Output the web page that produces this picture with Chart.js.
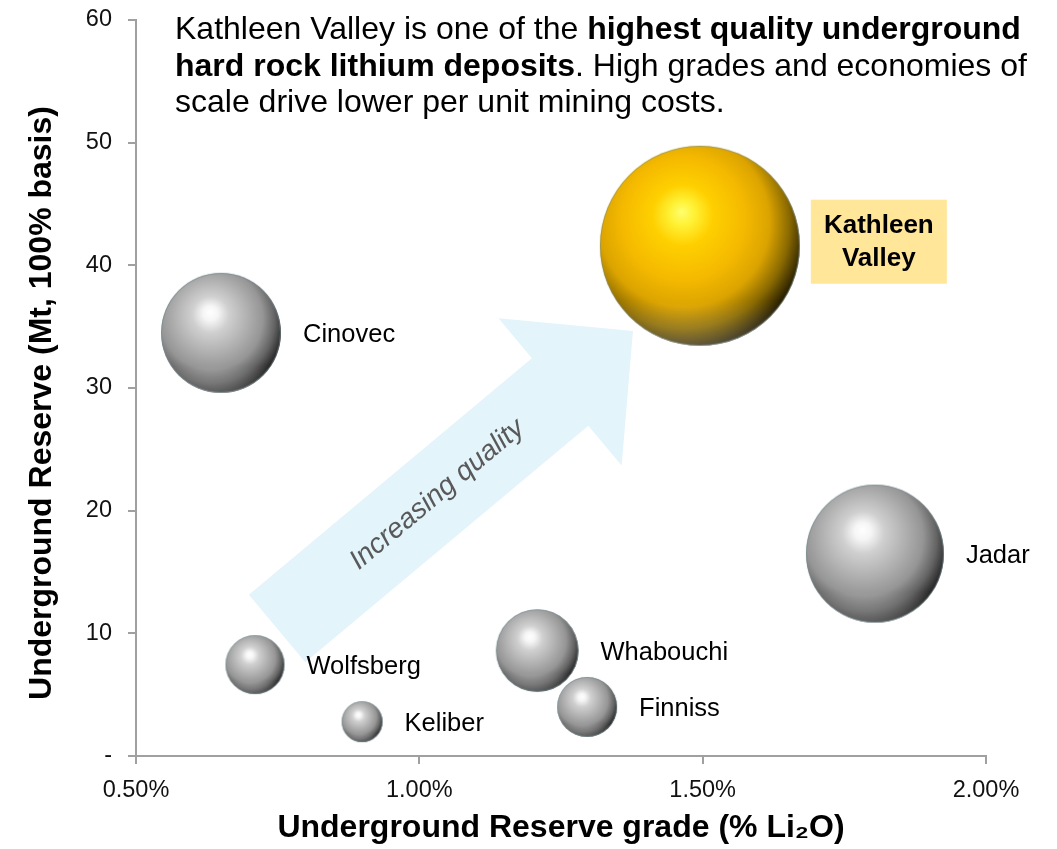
<!DOCTYPE html>
<html><head><meta charset="utf-8">
<script src="https://cdn.jsdelivr.net/npm/chart.js@4"></script>
<style>html,body{margin:0;padding:0;background:#fff;}#wrap{width:1057px;height:849px;}</style>
</head><body><div id="wrap"><canvas id="c" width="1057" height="849"></canvas></div>
<script>
// ---- data ----
const deposits = ['Kathleen Valley', 'Cinovec', 'Jadar', 'Whabouchi', 'Wolfsberg', 'Finniss', 'Keliber'];
const gradePct = [1.495, 0.65, 1.804, 1.208, 0.71, 1.296, 0.899];
const reserveMt = [41.6, 34.5, 16.5, 8.6, 7.45, 4.0, 2.8];
const bubbleRadius = [100, 60, 69, 41.3, 29.5, 30, 20.5];
const xTicks = [0.5, 1.0, 1.5, 2.0];
const yTicks = [0, 10, 20, 30, 40, 50, 60];
const highlighted = 'Kathleen Valley';
const arrowFrom = { x: 0.749, y: 10.4 };
const arrowTo = { x: 1.377, y: 34.65 };
const arrowText = 'Increasing quality';
const xTitle = 'Underground Reserve grade (% Li\u2082O)';
const yTitle = 'Underground Reserve (Mt, 100% basis)';
const headline = [
  [['Kathleen Valley is one of the ', false], ['highest quality underground', true]],
  [['hard rock lithium deposits', true], ['. High grades and economies of', false]],
  [['scale drive lower per unit mining costs.', false]]
];

// ---- styling ----
const FONT = '"Liberation Sans", Arial, Helvetica, sans-serif';
const AXIS = '#a0a0a0';
const GRAY = [[0, '#ffffff'], [0.1, '#f6f6f6'], [0.25, '#d0d0d0'], [0.5, '#b0b0b0'], [0.7, '#969696'], [0.86, '#646464'], [1, '#262626']];
const GOLD = [[0, '#ffff70'], [0.1, '#fff236'], [0.25, '#ffd000'], [0.5, '#f5ba00'], [0.7, '#dca400'], [0.86, '#8a6a00'], [1, '#2a2000']];

function sphere(r, stops) {
  const s = Math.ceil(r * 2) + 2;
  const c = document.createElement('canvas');
  c.width = c.height = s;
  const g = c.getContext('2d');
  const cx = s / 2, cy = s / 2;
  const grd = g.createRadialGradient(cx - 0.18 * r, cy - 0.34 * r, 0, cx - 0.15 * r, cy - 0.2 * r, 1.22 * r);
  stops.forEach(([o, col]) => grd.addColorStop(o, col));
  g.beginPath(); g.arc(cx, cy, r, 0, Math.PI * 2); g.closePath();
  g.fillStyle = grd; g.fill();
  g.save(); g.clip();
  const rim = g.createLinearGradient(0, cy + 0.55 * r, 0, cy + r);
  rim.addColorStop(0, 'rgba(255,255,255,0)');
  rim.addColorStop(1, 'rgba(255,255,255,0.22)');
  g.fillStyle = rim; g.fillRect(0, cy + 0.55 * r, s, r);
  g.restore();
  g.beginPath(); g.arc(cx, cy, r - 0.5, 0, Math.PI * 2);
  g.strokeStyle = 'rgba(110,140,150,0.55)'; g.lineWidth = 1; g.stroke();
  return c;
}
const spheres = deposits.map((n, i) => sphere(bubbleRadius[i], n === highlighted ? GOLD : GRAY));

const overlay = {
  id: 'overlay',
  beforeDatasetsDraw(chart) {
    const { ctx, scales: { x, y } } = chart;
    const T = { x: x.getPixelForValue(arrowFrom.x), y: y.getPixelForValue(arrowFrom.y) };
    const P = { x: x.getPixelForValue(arrowTo.x), y: y.getPixelForValue(arrowTo.y) };
    const L = Math.hypot(P.x - T.x, P.y - T.y);
    const u = { x: (P.x - T.x) / L, y: (P.y - T.y) / L };
    const n = { x: -u.y, y: u.x };
    const w = 88, hw = 192, hl = 95;
    const H = { x: P.x - u.x * hl, y: P.y - u.y * hl };
    const pts = [
      [T.x + n.x * w / 2, T.y + n.y * w / 2],
      [H.x + n.x * w / 2, H.y + n.y * w / 2],
      [H.x + n.x * hw / 2, H.y + n.y * hw / 2],
      [P.x, P.y],
      [H.x - n.x * hw / 2, H.y - n.y * hw / 2],
      [H.x - n.x * w / 2, H.y - n.y * w / 2],
      [T.x - n.x * w / 2, T.y - n.y * w / 2]
    ];
    ctx.save();
    ctx.beginPath();
    pts.forEach((p, i) => i ? ctx.lineTo(p[0], p[1]) : ctx.moveTo(p[0], p[1]));
    ctx.closePath();
    ctx.fillStyle = '#e3f4fb';
    ctx.fill();
    const C = { x: T.x + u.x * L * 0.45, y: T.y + u.y * L * 0.45 };
    ctx.translate(C.x, C.y);
    ctx.rotate(Math.atan2(u.y, u.x));
    ctx.font = 'italic 28px ' + FONT;
    ctx.fillStyle = '#595959';
    ctx.textAlign = 'center';
    ctx.textBaseline = 'middle';
    ctx.fillText(arrowText, 0, 0);
    ctx.restore();
  },
  afterDatasetsDraw(chart) {
    const { ctx } = chart;
    const meta = chart.getDatasetMeta(0);
    ctx.save();
    meta.data.forEach((el, i) => {
      const r = bubbleRadius[i];
      if (deposits[i] === highlighted) {
        const bx = el.x + r + 11, bw = 136, bh = 84, by = el.y - 4 - bh / 2;
        ctx.fillStyle = '#ffe699';
        ctx.fillRect(bx, by, bw, bh);
        ctx.fillStyle = '#000';
        ctx.font = 'bold 26px ' + FONT;
        ctx.textAlign = 'center';
        ctx.textBaseline = 'middle';
        const parts = deposits[i].split(' ');
        ctx.fillText(parts[0], bx + bw / 2, by + bh / 2 - 16);
        ctx.fillText(parts[1], bx + bw / 2, by + bh / 2 + 17);
      } else {
        ctx.fillStyle = '#000';
        ctx.font = '25.5px ' + FONT;
        ctx.textAlign = 'left';
        ctx.textBaseline = 'middle';
        ctx.fillText(deposits[i], el.x + r + 22, el.y + 2);
      }
    });
    // headline
    ctx.textAlign = 'left';
    ctx.textBaseline = 'alphabetic';
    ctx.fillStyle = '#000';
    headline.forEach((line, li) => {
      let xx = 175;
      const yy = 39 + li * 36.5;
      line.forEach(([txt, bold]) => {
        ctx.font = (bold ? 'bold ' : '') + '32px ' + FONT;
        ctx.fillText(txt, xx, yy);
        xx += ctx.measureText(txt).width;
      });
    });
    // y title
    ctx.translate(42, 403);
    ctx.rotate(-Math.PI / 2);
    ctx.font = 'bold 32px ' + FONT;
    ctx.textAlign = 'center';
    ctx.textBaseline = 'middle';
    ctx.fillText(yTitle, 0, 0);
    ctx.restore();
  }
};

new Chart(document.getElementById('c'), {
  type: 'bubble',
  data: {
    datasets: [{
      label: 'Underground reserve',
      data: deposits.map((d, i) => ({ x: gradePct[i], y: reserveMt[i], r: bubbleRadius[i] })),
      pointStyle: ctx => spheres[ctx.dataIndex],
      backgroundColor: 'rgba(0,0,0,0)',
      borderWidth: 0,
      clip: false
    }]
  },
  options: {
    responsive: false,
    animation: false,
    events: [],
    layout: { autoPadding: false, padding: { top: 20, right: 71, bottom: 0, left: 0 } },
    plugins: { legend: { display: false }, tooltip: { enabled: false } },
    scales: {
      x: {
        type: 'linear', min: 0.5, max: 2.0,
        afterBuildTicks: s => { s.ticks = xTicks.map(v => ({ value: v })); },
        afterFit: s => { s.height = 93; s.paddingLeft = 0; s.paddingRight = 0; },
        ticks: { callback: v => Number(v).toFixed(2) + '%', font: { family: FONT, size: 23.5 }, color: '#111', padding: 12, maxRotation: 0, autoSkip: false },
        grid: { display: true, drawOnChartArea: false, drawTicks: true, tickLength: 8, color: AXIS, lineWidth: 2 },
        border: { display: true, color: AXIS, width: 2 },
        title: { display: true, text: xTitle, font: { family: FONT, size: 32, weight: 'bold', lineHeight: 1 }, color: '#000', padding: { top: 0, bottom: 5 } }
      },
      y: {
        type: 'linear', min: 0, max: 60,
        afterBuildTicks: s => { s.ticks = yTicks.map(v => ({ value: v })); },
        afterFit: s => { s.width = 136; s.paddingTop = 0; s.paddingBottom = 0; },
        ticks: { callback: v => v === 0 ? '-' : String(v), font: { family: FONT, size: 23.5 }, color: '#111', padding: 16, autoSkip: false },
        grid: { display: true, drawOnChartArea: false, drawTicks: true, tickLength: 8, color: AXIS, lineWidth: 2 },
        border: { display: true, color: AXIS, width: 2 },
        title: { display: false }
      }
    }
  },
  plugins: [overlay]
});
</script>
</body></html>
